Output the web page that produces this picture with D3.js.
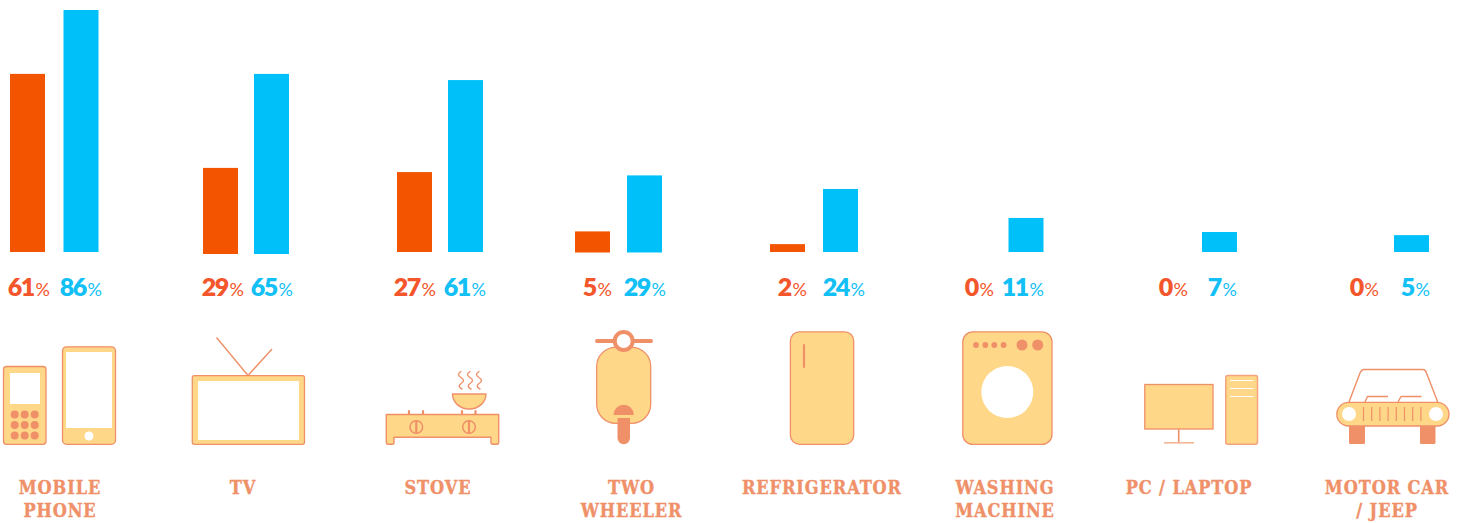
<!DOCTYPE html>
<html>
<head>
<meta charset="utf-8">
<script src="https://cdn.jsdelivr.net/npm/d3@7"></script>
<style>
  html, body { margin: 0; padding: 0; background: #fff; overflow: hidden; }
  svg { display: block; }
  .cat { font-family: "DejaVu Serif", serif; font-weight: bold; font-stretch: condensed; font-size: 18px; letter-spacing: 0.9px; fill: #ef9068; stroke: #ef9068; stroke-width: 0.35; text-anchor: middle; }
  .pct { font-family: Lato, sans-serif; text-anchor: end; }
  .pct .num { font-weight: 800; font-size: 25px; letter-spacing: -1.6px; }
  .pct .sign { font-size: 18px; }
</style>
</head>
<body>
<svg></svg>
<script>
let categories = ['MOBILE PHONE', 'TV', 'STOVE', 'TWO WHEELER', 'REFRIGERATOR', 'WASHING MACHINE', 'PC / LAPTOP', 'MOTOR CAR / JEEP']
let catLines = [['MOBILE', 'PHONE'], ['TV'], ['STOVE'], ['TWO', 'WHEELER'], ['REFRIGERATOR'], ['WASHING', 'MACHINE'], ['PC / LAPTOP'], ['MOTOR CAR', '/ JEEP']]

// printed percentages
let orangeLabels = [61, 29, 27, 5, 2, 0, 0, 0]
let blueLabels = [86, 65, 61, 29, 24, 11, 7, 5]

// bar lengths as they are drawn in the picture (they don't follow the labels exactly)
let orangeBars = [63.3, 30.6, 28.4, 7.5, 2.8, 0, 0, 0]
let blueBars = [86, 64, 61.1, 27.4, 22.4, 12.1, 7.1, 6]

let width = 1466
let height = 523
let barWidth = 35

let orange = '#f25400'
let blue = '#00c0f9'
let line = '#ef9068'
let fill = '#ffd789'

let svg = d3.select('svg').attr('width', width).attr('height', height)

// the groups are not evenly spaced in the original, so the scales are ordinal
let orangeX = d3.scaleOrdinal().domain(categories).range([10, 203, 397, 575, 770, 963, 1157, 1349])
let blueX = d3.scaleOrdinal().domain(categories).range([63.5, 254, 448, 627, 823, 1008.5, 1202, 1394])
let orangeLabelX = d3.scaleOrdinal().domain(categories).range([50, 244, 436, 612, 807, 994, 1188, 1379])
let blueLabelX = d3.scaleOrdinal().domain(categories).range([102, 293, 486, 666, 865, 1044, 1237, 1430])
let baseY = d3.scaleOrdinal().domain(categories).range([252, 254, 252, 252.5, 252, 252, 252, 252])
let catX = d3.scaleOrdinal().domain(categories).range([60, 243, 438, 631.5, 822, 1005, 1189, 1387])
let barScale = d3.scaleLinear().domain([0, 86]).range([0, 242])

let drawBars = (values, xScale, color, cls) => {
    svg.selectAll('rect.' + cls)
        .data(categories)
        .enter()
        .append('rect')
        .attr('class', cls)
        .attr('x', (d) => xScale(d))
        .attr('y', (d, i) => baseY(d) - barScale(values[i]))
        .attr('width', barWidth)
        .attr('height', (d, i) => barScale(values[i]))
        .attr('fill', color)
}

let drawLabels = (values, xScale, color, cls) => {
    let t = svg.selectAll('text.' + cls)
        .data(categories)
        .enter()
        .append('text')
        .attr('class', 'pct ' + cls)
        .attr('x', (d) => xScale(d))
        .attr('y', 296)
        .attr('fill', color)
    t.append('tspan').attr('class', 'num').text((d, i) => values[i])
    t.append('tspan').attr('class', 'sign').attr('dx', 2).text('%')
}

let drawCategories = () => {
    let t = svg.selectAll('text.cat')
        .data(categories)
        .enter()
        .append('text')
        .attr('class', 'cat')
        .attr('y', 494)
    t.selectAll('tspan')
        .data((d, i) => catLines[i].map((s) => ({ s: s, x: catX(d) })))
        .enter()
        .append('tspan')
        .attr('x', (d) => d.x)
        .attr('y', (d, i) => 494 + i * 23)
        .text((d) => d.s)
}

// icon helpers
let icons = svg.append('g').attr('id', 'icons')
let box = (x0, y0, x1, y1, r, f, s, sw) => icons.append('rect')
    .attr('x', x0).attr('y', y0).attr('width', x1 - x0).attr('height', y1 - y0).attr('rx', r || 0)
    .attr('fill', f === undefined ? fill : f).attr('stroke', s === undefined ? line : s).attr('stroke-width', sw || 1.3)
let dot = (x, y, r, f, s, sw) => icons.append('circle')
    .attr('cx', x).attr('cy', y).attr('r', r)
    .attr('fill', f || line).attr('stroke', s || 'none').attr('stroke-width', sw || 0)
let path = (d, f, s, sw, cap) => icons.append('path')
    .attr('d', d).attr('fill', f || 'none').attr('stroke', s === undefined ? line : s)
    .attr('stroke-width', sw || 1.4).attr('stroke-linecap', cap || 'butt').attr('stroke-linejoin', 'round')

let drawIcons = () => {
    // feature phone
    box(3.5, 366.5, 46, 444.3, 3)
    box(10, 373, 40, 404, 0, '#fff', 'none')
    d3.range(3).forEach((r) => d3.range(3).forEach((c) => dot(14.7 + c * 10, 414.5 + r * 10.5, 4)))
    // smartphone
    box(62.5, 346.8, 115.5, 444.3, 4)
    box(66, 352, 112, 428, 0, '#fff', 'none')
    dot(89, 436, 4.5, '#fff')

    // tv
    path('M216.5 337.5L248 375.5L272 349')
    box(192.3, 375.7, 304.5, 444.3, 2)
    box(198, 381, 299, 440, 0, '#fff', 'none')

    // stove
    ;[409, 423, 462, 475.5].forEach((x) => path(`M${x} 411V414`, 'none', line, 2.2, 'round'))
    path('M386.3 414.5H498.7V442.5Q498.7 444.3 497 444.3H493Q491 444.3 491 442.5V437.3H394V442.5Q394 444.3 392 444.3H388Q386.3 444.3 386.3 442.5Z', fill)
    ;[416.3, 469].forEach((x) => {
        dot(x, 427, 6.3, fill, line, 1.5)
        box(x - 1.1, 420.7, x + 1.1, 433.3, 0, line, 'none')
    })
    path('M452.5 394H486A16.75 15 0 0 1 452.5 394Z', fill)
    ;[460, 469, 478].forEach((x) => path(`M${x + 1} 371.5q-5 3 0 6t0 6q-4 3 1 5.5`, 'none', line, 1.4, 'round'))

    // scooter
    box(596.7, 347.3, 650.7, 423.3, 19)
    path('M597 341H651', 'none', line, 4, 'round')
    dot(623.7, 341, 9, '#fff', line, 4)
    path('M613.5 415A10.2 10.2 0 0 1 633.9 415Z', line, 'none')
    path('M617.5 418H630V438A6.2 6.2 0 0 1 617.5 438Z', line, 'none')

    // fridge
    box(790.4, 331.8, 853.7, 444.3, 9)
    path('M804 345V367', 'none', line, 2.2, 'round')

    // washer
    box(962.8, 331.8, 1052, 444.4, 10)
    ;[976, 985.3, 994.3, 1003.6].forEach((x) => dot(x, 345, 2.9))
    ;[1022, 1037.7].forEach((x) => dot(x, 345, 5.5))
    dot(1007.3, 392, 26, '#fff')

    // pc
    box(1144.8, 384.5, 1213, 429)
    path('M1178.7 429V442', 'none', line, 1.6)
    path('M1164 442.8H1194', 'none', '#f5b598', 1.6)
    box(1225.8, 375.6, 1257.5, 444.2, 2, fill, '#f2a47e', 1.5)
    ;[380.5, 388.5, 396.5].forEach((y) => path(`M1230 ${y}H1253.3`, 'none', '#fff', 1))

    // car
    path('M1349 402L1360 373Q1361.5 369.5 1364 369.5H1423Q1425.5 369.5 1426.5 373L1437.7 402')
    path('M1365 402L1367.5 396.5H1388')
    path('M1398 402L1401 396.5H1421.5')
    box(1349, 424, 1365, 444, 1.5, line, 'none')
    box(1420, 424, 1435.5, 444, 1.5, line, 'none')
    box(1336.8, 402.4, 1449, 426, 11.8)
    dot(1349, 414, 7, '#fff')
    dot(1436, 414, 7, '#fff')
    d3.range(8).forEach((i) => path(`M${1363.5 + i * 8.2} 407V421`, 'none', line, 1.2))
}

drawBars(orangeBars, orangeX, orange, 'orangeBar')
drawBars(blueBars, blueX, blue, 'blueBar')
drawLabels(orangeLabels, orangeLabelX, '#f4562b', 'orangeLabel')
drawLabels(blueLabels, blueLabelX, '#12c0f5', 'blueLabel')
drawIcons()
drawCategories()
</script>
</body>
</html>
